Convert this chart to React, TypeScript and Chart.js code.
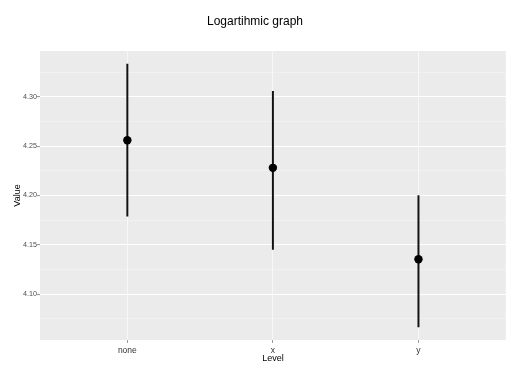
import { useEffect, useRef } from 'react';
import { Chart, registerables } from 'chart.js';

Chart.register(...registerables);

// Factor levels and their summary statistics
const levels = ['none', 'x', 'y'];
const means = [4.256, 4.228, 4.1355];
const lowers = [4.179, 4.1455, 4.067];
const uppers = [4.333, 4.3055, 4.2];

// Axis breaks
const yMajorTicks = [4.1, 4.15, 4.2, 4.25, 4.3];
const yMinorTicks = [4.075, 4.125, 4.175, 4.225, 4.275, 4.325];
const yLimits = [4.0537, 4.3463];
const xLimits = [0.4, 3.6];

const FONT = "'Liberation Sans', Arial, sans-serif";

const isMajor = (v: number) => yMajorTicks.some((m) => Math.abs(m - v) < 1e-6);

// Grey panel behind the plotting area
const panelBackground = {
  id: 'panelBackground',
  beforeDraw(chart: Chart) {
    const { ctx, chartArea } = chart;
    if (!chartArea) return;
    ctx.save();
    ctx.fillStyle = '#EBEBEB';
    ctx.fillRect(chartArea.left, chartArea.top, chartArea.right - chartArea.left, chartArea.bottom - chartArea.top);
    ctx.restore();
  },
};

export default function App() {
  const canvasRef = useRef<HTMLCanvasElement | null>(null);

  useEffect(() => {
    const canvas = canvasRef.current;
    if (!canvas) return;

    const chart = new Chart(canvas, {
      type: 'scatter',
      data: {
        datasets: [
          {
            type: 'bar',
            label: 'range',
            data: levels.map((_, i) => ({ x: i + 1, y: [lowers[i], uppers[i]] })) as any,
            backgroundColor: '#111111',
            borderWidth: 0,
            barThickness: 1.3,
            order: 1,
          } as any,
          {
            type: 'scatter',
            label: 'mean',
            data: levels.map((_, i) => ({ x: i + 1, y: means[i] })),
            backgroundColor: '#000000',
            borderWidth: 0,
            pointRadius: 4.2,
            pointHoverRadius: 4.2,
            order: 0,
          },
        ],
      },
      options: {
        responsive: false,
        animation: false,
        devicePixelRatio: 1,
        layout: { padding: { top: 0, right: 3, bottom: 0, left: 3 } },
        plugins: {
          legend: { display: false },
          tooltip: { enabled: false },
          title: {
            display: true,
            text: 'Logartihmic graph',
            color: '#000000',
            font: { family: FONT, size: 12, weight: 'normal' },
            padding: { top: 14.3, bottom: 22.3 },
          },
        },
        scales: {
          x: {
            type: 'linear',
            min: xLimits[0],
            max: xLimits[1],
            offset: false,
            border: { display: false },
            afterBuildTicks: (scale: any) => {
              scale.ticks = levels.map((_, i) => ({ value: i + 1 }));
            },
            afterFit: (scale: any) => {
              scale.height = 32;
            },
            grid: {
              color: '#F7F7F7',
              lineWidth: 1,
              tickColor: '#9a9a9a',
              tickLength: 3,
              offset: false,
            },
            ticks: {
              autoSkip: false,
              maxRotation: 0,
              padding: 3,
              color: '#333333',
              font: { family: FONT, size: 8.5 },
              callback: (v: any) => levels[Math.round(Number(v)) - 1] ?? '',
            },
            title: {
              display: true,
              text: 'Level',
              color: '#000000',
              font: { family: FONT, size: 9 },
              padding: { top: 0, bottom: 8.2 },
            },
          },
          y: {
            type: 'linear',
            min: yLimits[0],
            max: yLimits[1],
            border: { display: false },
            afterBuildTicks: (scale: any) => {
              scale.ticks = [...yMajorTicks, ...yMinorTicks]
                .sort((a, b) => a - b)
                .map((value) => ({ value }));
            },
            afterFit: (scale: any) => {
              scale.width = 37;
            },
            grid: {
              color: (ctx: any) => (isMajor(ctx.tick?.value) ? '#FFFFFF' : '#F5F5F5'),
              lineWidth: (ctx: any) => (isMajor(ctx.tick?.value) ? 1.1 : 0.6),
              tickColor: (ctx: any) => (isMajor(ctx.tick?.value) ? '#9a9a9a' : 'rgba(0,0,0,0)'),
              tickLength: 3,
            },
            ticks: {
              autoSkip: false,
              padding: 0,
              color: '#4D4D4D',
              font: { family: FONT, size: 7.2 },
              callback: (v: any) => (isMajor(Number(v)) ? Number(v).toFixed(2) : ''),
            },
            title: {
              display: true,
              text: 'Value',
              color: '#000000',
              font: { family: FONT, size: 9 },
              padding: { top: 9.5, bottom: 0 },
            },
          },
        },
      },
      plugins: [panelBackground],
    });

    return () => chart.destroy();
  }, []);

  return (
    <div style={{ position: 'fixed', left: 0, top: 0, width: 510, height: 372, background: '#FFFFFF' }}>
      <canvas ref={canvasRef} width={510} height={372} style={{ display: 'block' }} />
    </div>
  );
}
